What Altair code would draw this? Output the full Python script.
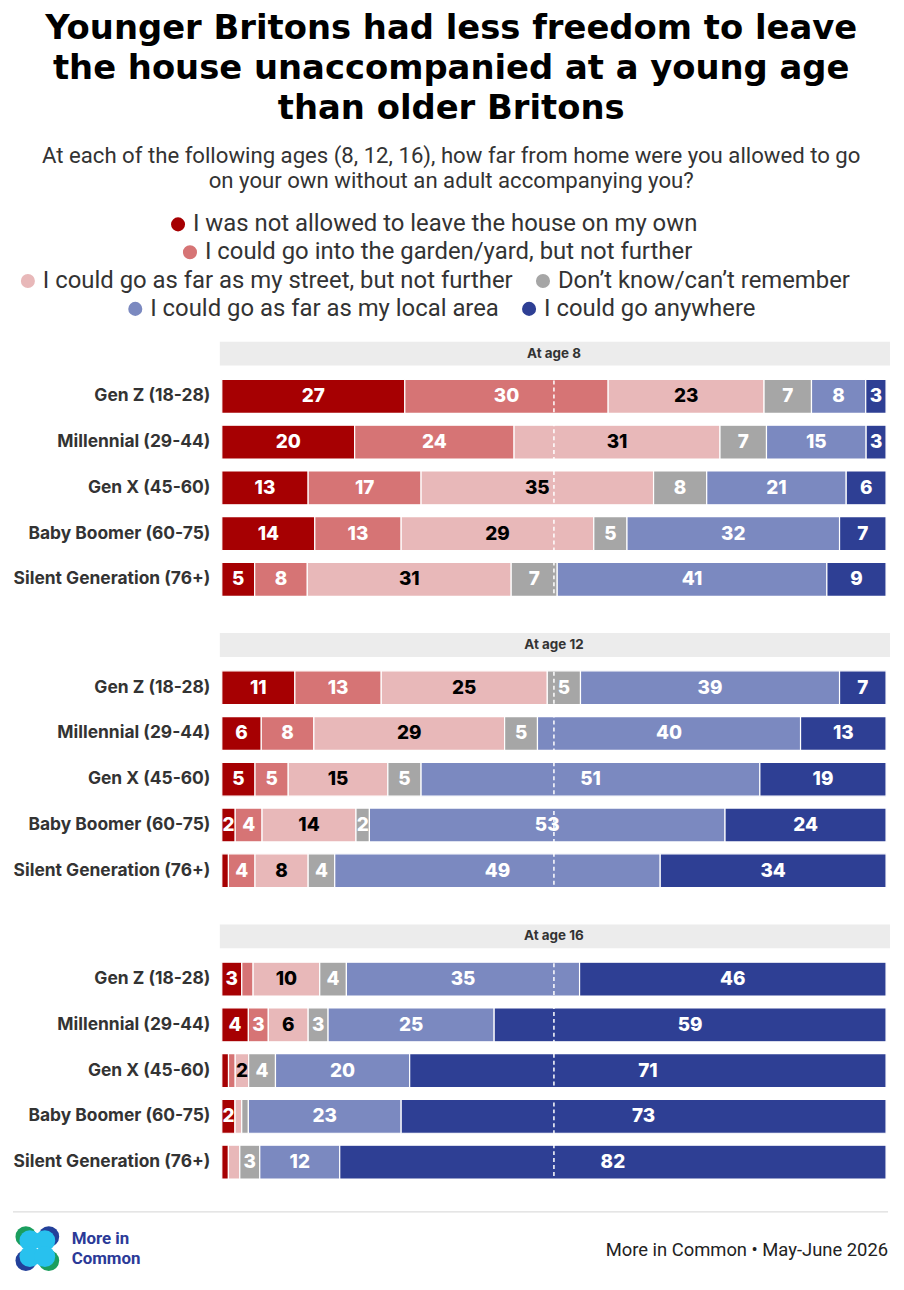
import altair as alt
import pandas as pd

GENERATIONS = [
    "Gen Z (18-28)",
    "Millennial (29-44)",
    "Gen X (45-60)",
    "Baby Boomer (60-75)",
    "Silent Generation (76+)",
]
CATEGORIES = [
    "I was not allowed to leave the house on my own",
    "I could go into the garden/yard, but not further",
    "I could go as far as my street, but not further",
    "Don\u2019t know/can\u2019t remember",
    "I could go as far as my local area",
    "I could go anywhere",
]
COLORS = ["#a60002", "#d67475", "#e8b8b9", "#a6a6a6", "#7b89c0", "#2e3f94"]
PANELS = ["At age 8", "At age 12", "At age 16"]

# one row per generation, values in CATEGORIES order
AGE_8 = [
    [27, 30, 23, 7, 8, 3],
    [20, 24, 31, 7, 15, 3],
    [13, 17, 35, 8, 21, 6],
    [14, 13, 29, 5, 32, 7],
    [5, 8, 31, 7, 41, 9],
]
AGE_12 = [
    [11, 13, 25, 5, 39, 7],
    [6, 8, 29, 5, 40, 13],
    [5, 5, 15, 5, 51, 19],
    [2, 4, 14, 2, 53, 24],
    [1, 4, 8, 4, 49, 34],
]
AGE_16 = [
    [3, 1.7, 10, 4, 35, 46],
    [4, 3, 6, 3, 25, 59],
    [1, 1, 2, 4, 20, 71],
    [2, 0, 1, 1, 23, 73],
    [1, 0, 1.7, 3, 12, 82],
]

# legend rows (category indices) and where each legend row sits
LEGEND_ROWS = [[0], [1], [2, 3], [4, 5]]
LEGEND_X = [-56, -44, -207, -99]
LEGEND_Y = [-162, -134, -105, -77]

FONT = "Roboto"
BOLD_FONT = "Inter"
TITLE_FONT = "DejaVu Sans"
PLOT_W = 668
PLOT_H = 230

rows = []
for age, table in zip(PANELS, [AGE_8, AGE_12, AGE_16]):
    for gen, vals in zip(GENERATIONS, table):
        for i, (cat, v) in enumerate(zip(CATEGORIES, vals)):
            rows.append({"age": age, "generation": gen, "category": cat, "order": i, "value": v})
df = pd.DataFrame(rows)

y_enc = alt.Y(
    "generation:N",
    sort=GENERATIONS,
    scale=alt.Scale(paddingInner=0.26, paddingOuter=0.13),
    axis=alt.Axis(
        title=None,
        domain=False,
        ticks=False,
        labelFont=BOLD_FONT,
        labelFontSize=17.5,
        labelFontWeight="bold",
        labelColor="#333333",
        labelPadding=12,
        labelLimit=0,
    ),
)
x_enc = alt.X("x0:Q", scale=alt.Scale(domain=[0, 1]), axis=None)


def panel(age: str, with_legend: bool = False, with_footer: bool = False) -> alt.LayerChart:
    """One block of stacked bars with its grey header band."""
    base = (
        alt.Chart(df)
        .transform_filter(alt.datum.age == age)
        .transform_stack(
            stack="value",
            groupby=["generation"],
            as_=["x0", "x1"],
            offset="normalize",
            sort=[alt.SortField("order", order="ascending")],
        )
        .transform_calculate(mid="(datum.x0 + datum.x1) / 2")
    )

    layers = []
    head = alt.Chart(pd.DataFrame({"label": [age]}))
    layers.append(
        head.mark_rect(color="#ececec").encode(
            x=alt.value(-2), x2=alt.value(PLOT_W + 4), y=alt.value(-32), y2=alt.value(-8)
        )
    )
    layers.append(
        head.mark_text(font=BOLD_FONT, fontSize=13.5, fontWeight="bold", color="#333333", baseline="middle").encode(
            x=alt.value(PLOT_W / 2), y=alt.value(-20), text="label:N"
        )
    )

    if with_legend:
        for idx, group in enumerate(LEGEND_ROWS):
            cats = [CATEGORIES[i] for i in group]
            cols = [COLORS[i] for i in group]
            layers.append(
                base.transform_filter(alt.FieldOneOfPredicate(field="category", oneOf=cats))
                .mark_bar(stroke="white", strokeWidth=1.2)
                .encode(
                    x=x_enc,
                    x2="x1:Q",
                    y=y_enc,
                    color=alt.Color(
                        "category:N",
                        scale=alt.Scale(domain=cats, range=cols),
                        legend=alt.Legend(
                            title=None,
                            orient="none",
                            legendX=LEGEND_X[idx],
                            legendY=LEGEND_Y[idx],
                            direction="horizontal",
                            symbolType="circle",
                            symbolSize=200,
                            symbolStrokeWidth=0,
                            labelFont=FONT,
                            labelFontSize=24,
                            labelColor="#333333",
                            labelLimit=0,
                            labelOffset=3,
                            columnPadding=18,
                        ),
                    ),
                )
            )
    else:
        layers.append(
            base.mark_bar(stroke="white", strokeWidth=1.2).encode(
                x=x_enc,
                x2="x1:Q",
                y=y_enc,
                color=alt.Color("category:N", scale=alt.Scale(domain=CATEGORIES, range=COLORS), legend=None),
            )
        )

    layers.append(
        base.transform_filter(alt.datum.value >= 2)
        .mark_text(font=BOLD_FONT, fontSize=19, fontWeight=800, baseline="middle")
        .encode(
            x=alt.X("mid:Q", scale=alt.Scale(domain=[0, 1]), axis=None),
            y=y_enc,
            text=alt.Text("value:Q", format=".0f"),
            color=alt.condition(alt.datum.order == 2, alt.value("black"), alt.value("white")),
        )
    )
    layers.append(
        alt.Chart(pd.DataFrame({"x0": [0.5]}))
        .mark_rule(color="white", strokeDash=[4, 3], strokeWidth=1.5)
        .encode(x=x_enc)
    )

    if with_footer:
        foot = alt.Chart(pd.DataFrame({"t": ["More in Common \u2022 May-June 2026"]}))
        layers.append(
            foot.mark_rule(color="#dddddd", strokeWidth=1.2).encode(
                x=alt.value(-210), x2=alt.value(PLOT_W + 2), y=alt.value(PLOT_H + 27)
            )
        )
        layers.append(
            foot.mark_text(font=FONT, fontSize=18.5, color="#222222", align="right", baseline="middle").encode(
                x=alt.value(PLOT_W + 2), y=alt.value(PLOT_H + 65), text="t:N"
            )
        )
        brand = alt.Chart(pd.DataFrame({"t": ["More in", "Common"], "dy": [PLOT_H + 54, PLOT_H + 74]}))
        layers.append(
            brand.mark_text(font=FONT, fontSize=17, fontWeight="bold", color="#2b3a98", align="left",
                            baseline="middle")
            .encode(x=alt.value(-151), y=alt.Y("dy:Q", scale=None), text="t:N")
        )
        logo = pd.DataFrame(
            {
                "lx": [-197, -174, -197, -174, -193, -178, -193, -178],
                "ly": [PLOT_H + 52, PLOT_H + 52, PLOT_H + 76, PLOT_H + 76,
                       PLOT_H + 56, PLOT_H + 56, PLOT_H + 72, PLOT_H + 72],
                "c": ["#1b9e5e", "#23409a", "#23409a", "#1b9e5e", "#28c1ee", "#28c1ee", "#28c1ee", "#28c1ee"],
            }
        )
        layers.append(
            alt.Chart(logo).mark_circle(size=440, opacity=1).encode(
                x=alt.X("lx:Q", scale=None), y=alt.Y("ly:Q", scale=None), color=alt.Color("c:N", scale=None)
            )
        )

    return alt.layer(*layers).resolve_scale(color="independent").properties(width=PLOT_W, height=PLOT_H)


chart = (
    alt.vconcat(
        panel(PANELS[0], with_legend=True),
        panel(PANELS[1]),
        panel(PANELS[2], with_footer=True),
        spacing=30,
    )
    .resolve_scale(color="independent")
    .properties(
        padding={"left": 4, "right": 6, "top": 0, "bottom": 4},
        title=alt.TitleParams(
            text=[
                "Younger Britons had less freedom to leave",
                "the house unaccompanied at a young age",
                "than older Britons",
            ],
            subtitle=[
                "At each of the following ages (8, 12, 16), how far from home were you allowed to go",
                "on your own without an adult accompanying you?",
            ],
            anchor="middle",
            font=TITLE_FONT,
            fontSize=34,
            fontWeight="bold",
            color="#000000",
            lineHeight=40,
            subtitleFont=FONT,
            subtitleFontSize=22.3,
            subtitleColor="#333333",
            subtitleLineHeight=25,
            subtitlePadding=20,
            offset=20,
        ),
    )
    .configure_view(stroke=None)
)

chart.save("out.html", embed_options={"renderer": "svg", "actions": False})
